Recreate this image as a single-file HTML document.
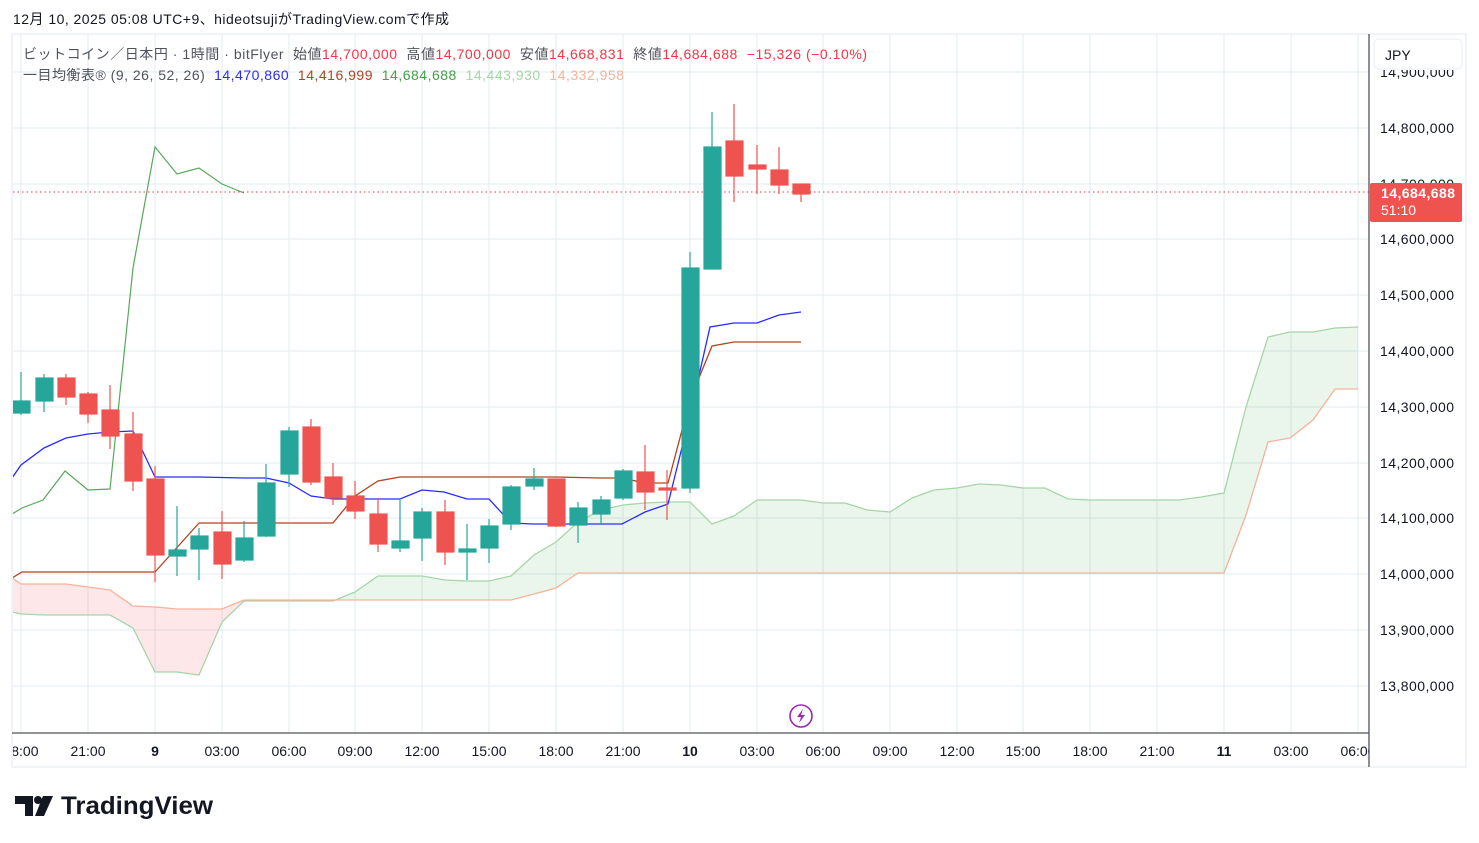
<!DOCTYPE html>
<html><head><meta charset="utf-8"><style>
body{margin:0;background:#fff;width:1479px;height:843px;overflow:hidden;font-family:"Liberation Sans","Noto Sans CJK JP",sans-serif;}
</style></head><body>
<svg width="1479" height="843" xmlns="http://www.w3.org/2000/svg" style="position:absolute;left:0;top:0;font-family:'Liberation Sans','Noto Sans CJK JP',sans-serif">
<text x="13" y="24" font-size="14" fill="#131722" textLength="436" lengthAdjust="spacing">12月 10, 2025 05:08 UTC+9、hideotsujiがTradingView.comで作成</text>
<rect x="12" y="34" width="1454" height="733" fill="none" stroke="#f0f3fa" stroke-width="2"/>
<defs><clipPath id="c"><rect x="13" y="35" width="1356" height="698"/></clipPath><clipPath id="t"><rect x="13" y="733" width="1356" height="34"/></clipPath></defs>
<g clip-path="url(#c)">
<g stroke="#e1ecf2" stroke-width="1">
<path d="M21 35V733M88 35V733M155 35V733M222 35V733M289 35V733M355 35V733M422 35V733M489 35V733M556 35V733M623 35V733M690 35V733M757 35V733M823 35V733M890 35V733M957 35V733M1023 35V733M1090 35V733M1157 35V733M1224 35V733M1291 35V733M1358 35V733"/>
<path d="M13 72H1369M13 128H1369M13 184H1369M13 239H1369M13 295H1369M13 351H1369M13 407H1369M13 463H1369M13 518H1369M13 574H1369M13 630H1369M13 686H1369"/>
</g>
<polygon fill="#f7525f" fill-opacity="0.14" points="12,578 21,584 66,584 88,587 110,590 133,606 155,607 177,609 222,609 244,600 244,601 222,622 199,675 177,672 155,672 133,628 110,615 44,615 21,614 12,612"/>
<polygon fill="#43a047" fill-opacity="0.11" points="244,601 266,601 333,601 355,592 378,576 400,576 422,576 445,580 467,581 489,581 511,576 534,555 556,542 578,522 601,510 623,505 645,503 667,502 690,502 712,524 734,516 757,500 801,500 823,503 845,503 867,510 890,512 912,498 934,490 957,488 979,484 1001,485 1023,488 1045,488 1068,499 1090,500 1179,500 1201,497 1224,493 1246,407 1268,337 1290,332 1313,332 1335,328 1358,327 1358,389 1335,389 1313,420 1290,438 1268,442 1246,515 1224,573 578,573 556,588 534,594 511,600 244,600"/>
<polyline fill="none" stroke="#a5d6a7" stroke-width="1.3" points="12,612 21,614 44,615 110,615 133,628 155,672 177,672 199,675 222,622 244,601 266,601 333,601 355,592 378,576 400,576 422,576 445,580 467,581 489,581 511,576 534,555 556,542 578,522 601,510 623,505 645,503 667,502 690,502 712,524 734,516 757,500 801,500 823,503 845,503 867,510 890,512 912,498 934,490 957,488 979,484 1001,485 1023,488 1045,488 1068,499 1090,500 1179,500 1201,497 1224,493 1246,407 1268,337 1290,332 1313,332 1335,328 1358,327"/>
<polyline fill="none" stroke="#f5b399" stroke-width="1.3" points="12,578 21,584 66,584 88,587 110,590 133,606 155,607 177,609 222,609 244,600 511,600 534,594 556,588 578,573 1224,573 1246,515 1268,442 1290,438 1313,420 1335,389 1358,389"/>
<polyline fill="none" stroke="#43a047" stroke-width="1.2" opacity="0.9" points="12,514 22,508 43,500 65,471 88,490 110,489 133,268 155,147 177,174 199,168 222,184 244,193"/>
<polyline fill="none" stroke="#b2441e" stroke-width="1.3" points="12,578 22,572 155,572 199,523 333,523 355,496 378,481 400,477 556,477 600,478 622,478 645,483 668,483 690,400 712,346 734,342 801,342"/>
<polyline fill="none" stroke="#2a2aff" stroke-width="1.3" points="12,478 21,465 44,448 66,438 88,434 110,432 133,431 155,477 199,477 244,478 266,478 289,483 311,496 333,499 400,499 422,490 444,492 467,499 489,499 511,523 533,524 622,524 645,512 668,504 690,415 710,327 734,323 757,323 779,315 801,312"/>
<line x1="13" y1="192" x2="1369" y2="192" stroke="#f23645" stroke-width="1" stroke-dasharray="1.5,3"/>
<g stroke-width="1.2">
<g fill="#26a69a" stroke="#26a69a">
<line x1="21" y1="372" x2="21" y2="415"/><rect x="13" y="401" width="17" height="12"/>
<line x1="44" y1="374" x2="44" y2="412"/><rect x="36" y="378" width="17" height="23"/>
<line x1="177" y1="506" x2="177" y2="576"/><rect x="169" y="550" width="17" height="6"/>
<line x1="199" y1="528" x2="199" y2="580"/><rect x="191" y="536" width="17" height="13"/>
<line x1="244" y1="521" x2="244" y2="562"/><rect x="236" y="538" width="17" height="22"/>
<line x1="266" y1="464" x2="266" y2="537"/><rect x="258" y="483" width="17" height="53"/>
<line x1="289" y1="427" x2="289" y2="487"/><rect x="281" y="431" width="17" height="43"/>
<line x1="400" y1="498" x2="400" y2="552"/><rect x="392" y="541" width="17" height="7"/>
<line x1="422" y1="508" x2="422" y2="561"/><rect x="414" y="512" width="17" height="26"/>
<line x1="467" y1="524" x2="467" y2="580"/><rect x="459" y="549" width="17" height="3"/>
<line x1="489" y1="519" x2="489" y2="563"/><rect x="481" y="526" width="17" height="22"/>
<line x1="511" y1="485" x2="511" y2="530"/><rect x="503" y="487" width="17" height="37"/>
<line x1="534" y1="468" x2="534" y2="490"/><rect x="526" y="479" width="17" height="7"/>
<line x1="578" y1="502" x2="578" y2="543"/><rect x="570" y="508" width="17" height="17"/>
<line x1="601" y1="496" x2="601" y2="525"/><rect x="593" y="500" width="17" height="14"/>
<line x1="623" y1="469" x2="623" y2="500"/><rect x="615" y="471" width="17" height="27"/>
<line x1="690" y1="252" x2="690" y2="493"/><rect x="682" y="268" width="17" height="220"/>
<line x1="712" y1="112" x2="712" y2="269"/><rect x="704" y="147" width="17" height="122"/>
</g>
<g fill="#ef5350" stroke="#ef5350">
<line x1="66" y1="374" x2="66" y2="405"/><rect x="58" y="378" width="17" height="19"/>
<line x1="88" y1="392" x2="88" y2="423"/><rect x="80" y="394" width="17" height="20"/>
<line x1="110" y1="385" x2="110" y2="449"/><rect x="102" y="410" width="17" height="26"/>
<line x1="133" y1="412" x2="133" y2="491"/><rect x="125" y="434" width="17" height="47"/>
<line x1="155" y1="466" x2="155" y2="582"/><rect x="147" y="479" width="17" height="76"/>
<line x1="222" y1="511" x2="222" y2="579"/><rect x="214" y="532" width="17" height="32"/>
<line x1="311" y1="419" x2="311" y2="485"/><rect x="303" y="427" width="17" height="55"/>
<line x1="333" y1="463" x2="333" y2="505"/><rect x="325" y="477" width="17" height="21"/>
<line x1="355" y1="481" x2="355" y2="519"/><rect x="347" y="496" width="17" height="15"/>
<line x1="378" y1="498" x2="378" y2="552"/><rect x="370" y="514" width="17" height="30"/>
<line x1="445" y1="500" x2="445" y2="565"/><rect x="437" y="512" width="17" height="40"/>
<line x1="556" y1="479" x2="556" y2="527"/><rect x="548" y="479" width="17" height="47"/>
<line x1="645" y1="445" x2="645" y2="510"/><rect x="637" y="472" width="17" height="20"/>
<line x1="667" y1="470" x2="667" y2="520"/><rect x="659" y="488" width="17" height="2"/>
<line x1="734" y1="104" x2="734" y2="202"/><rect x="726" y="141" width="17" height="35"/>
<line x1="757" y1="145" x2="757" y2="194"/><rect x="749" y="165" width="17" height="4"/>
<line x1="779" y1="147" x2="779" y2="194"/><rect x="771" y="170" width="17" height="15"/>
<line x1="801" y1="184" x2="801" y2="202"/><rect x="793" y="184" width="17" height="10"/>
</g></g>
<circle cx="801" cy="716" r="11" fill="#fff" stroke="#9c27b0" stroke-width="1.6"/>
<path d="M803 709 L797 717 L801 717 L799 723 L805 715 L801 715 Z" fill="#9c27b0"/>
</g>
<line x1="12" y1="733" x2="1369" y2="733" stroke="#50535e" stroke-width="1.3"/>
<line x1="1369" y1="34" x2="1369" y2="767" stroke="#50535e" stroke-width="1.3"/>
<g font-size="14" fill="#131722" text-anchor="middle" clip-path="url(#t)">
<text x="21" y="756">18:00</text><text x="88" y="756">21:00</text><text x="155" y="756" font-weight="bold">9</text><text x="222" y="756">03:00</text><text x="289" y="756">06:00</text><text x="355" y="756">09:00</text><text x="422" y="756">12:00</text><text x="489" y="756">15:00</text><text x="556" y="756">18:00</text><text x="623" y="756">21:00</text><text x="690" y="756" font-weight="bold">10</text><text x="757" y="756">03:00</text><text x="823" y="756">06:00</text><text x="890" y="756">09:00</text><text x="957" y="756">12:00</text><text x="1023" y="756">15:00</text><text x="1090" y="756">18:00</text><text x="1157" y="756">21:00</text><text x="1224" y="756" font-weight="bold">11</text><text x="1291" y="756">03:00</text><text x="1358" y="756">06:00</text>
</g>
<g font-size="14" fill="#131722">
<text x="1380" y="77" textLength="74">14,900,000</text>
<text x="1380" y="133" textLength="74">14,800,000</text><text x="1380" y="189" textLength="74">14,700,000</text><text x="1380" y="244" textLength="74">14,600,000</text><text x="1380" y="300" textLength="74">14,500,000</text><text x="1380" y="356" textLength="74">14,400,000</text><text x="1380" y="412" textLength="74">14,300,000</text><text x="1380" y="468" textLength="74">14,200,000</text><text x="1380" y="523" textLength="74">14,100,000</text><text x="1380" y="579" textLength="74">14,000,000</text><text x="1380" y="635" textLength="74">13,900,000</text><text x="1380" y="691" textLength="74">13,800,000</text>
</g>
<rect x="1371" y="36" width="94" height="34" fill="#fff"/>
<rect x="1374" y="39" width="88" height="30" rx="5" fill="#fff" stroke="#f0f3fa" stroke-width="1.5"/>
<text x="1385" y="60" font-size="14" fill="#131722">JPY</text>
<rect x="1370" y="183" width="92" height="39" rx="2" fill="#ef5350"/>
<text x="1381" y="198" font-size="14" font-weight="bold" fill="#fff" textLength="74">14,684,688</text>
<text x="1381" y="215" font-size="14" fill="#fff">51:10</text>
<text x="23" y="59" font-size="14" textLength="844" lengthAdjust="spacing" xml:space="preserve"><tspan fill="#50535e">ビットコイン／日本円 · 1時間 · bitFlyer  始値</tspan><tspan fill="#f23645">14,700,000</tspan><tspan fill="#50535e">  高値</tspan><tspan fill="#f23645">14,700,000</tspan><tspan fill="#50535e">  安値</tspan><tspan fill="#f23645">14,668,831</tspan><tspan fill="#50535e">  終値</tspan><tspan fill="#f23645">14,684,688  −15,326 (−0.10%)</tspan></text>
<text x="23" y="80" font-size="14" textLength="601" lengthAdjust="spacing" xml:space="preserve"><tspan fill="#50535e">一目均衡表® (9, 26, 52, 26)  </tspan><tspan fill="#2a2aff">14,470,860  </tspan><tspan fill="#b2441e">14,416,999  </tspan><tspan fill="#43a047">14,684,688  </tspan><tspan fill="#a5d6a7">14,443,930  </tspan><tspan fill="#f5b399">14,332,958</tspan></text>
<g fill="#131722">
<path d="M15 796H33V816H25V804H15Z"/><circle cx="38" cy="800" r="4"/><path d="M43 796H53L44 816H35Z"/>
</g>
<text x="61" y="814" font-size="25" font-weight="bold" fill="#131722" textLength="152" lengthAdjust="spacingAndGlyphs">TradingView</text>
</svg>
</body></html>
